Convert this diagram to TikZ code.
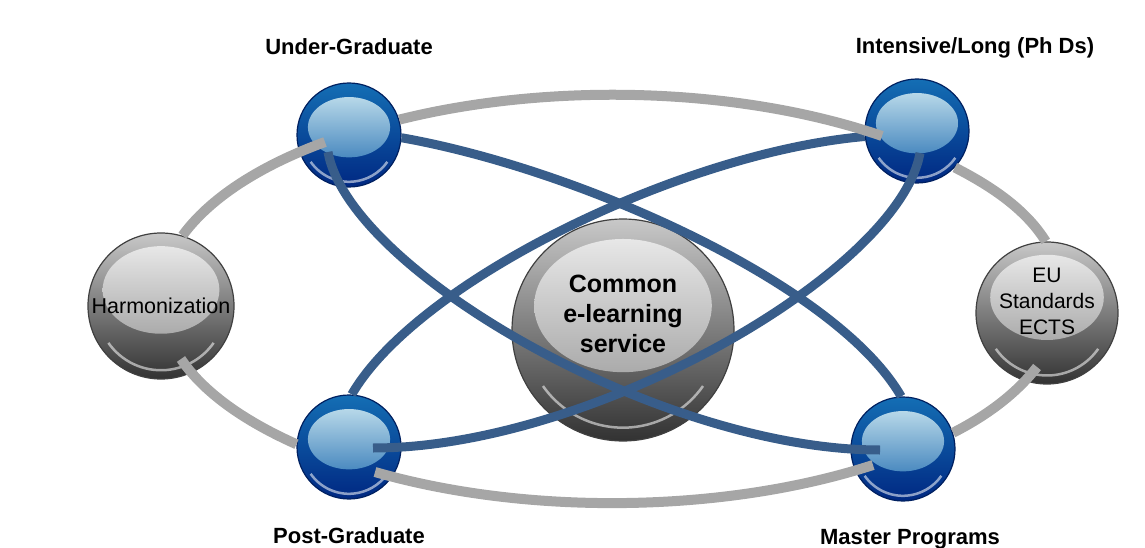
\documentclass[tikz,border=0pt]{standalone}
\usepackage{fontspec}
\setmainfont{Liberation Sans}

\definecolor{ringgray}{RGB}{166,166,166}
\definecolor{linkblue}{RGB}{56,93,138}
\definecolor{ballnavy}{RGB}{0,32,96}
\definecolor{balltop}{RGB}{20,110,180}
\definecolor{ballbot}{RGB}{0,40,130}
\definecolor{blueshine}{RGB}{208,234,242}
\definecolor{bluemid}{RGB}{115,182,214}
\definecolor{bluelow}{RGB}{22,100,172}
\definecolor{greyedge}{RGB}{64,64,64}
\definecolor{greytop}{RGB}{200,200,200}
\definecolor{greybot}{RGB}{50,50,50}
\definecolor{greyshine}{RGB}{240,240,240}
\definecolor{greymid}{RGB}{212,212,212}
\definecolor{greylow}{RGB}{140,140,140}

\begin{document}
\begin{tikzpicture}[x=1pt,y=1pt,thick,
    blue ball/.style={circle,inner sep=0pt,minimum size=2*#1pt,draw=ballnavy,line width=1.2pt,
      top color=balltop,bottom color=ballbot,
      path picture={
        \shade[top color=blueshine,middle color=bluemid,bottom color=bluelow]
          ([yshift=0.15*#1pt]path picture bounding box.center) ellipse [x radius=0.79*#1pt,y radius=0.58*#1pt];
        \draw[white,opacity=.55,line width=2.5pt]
          (path picture bounding box.center) ++(215:0.9*#1pt) arc [start angle=215,end angle=325,radius=0.9*#1pt];
      }},
    gray ball/.style={circle,inner sep=0pt,minimum size=2*#1pt,draw=greyedge,line width=1.2pt,
      top color=greytop,bottom color=greybot,
      path picture={
        \shade[top color=greyshine,middle color=greymid,bottom color=greylow]
          ([yshift=0.22*#1pt]path picture bounding box.center) ellipse [x radius=0.8*#1pt,y radius=0.6*#1pt];
        \draw[white,opacity=.55,line width=2.5pt]
          (path picture bounding box.center) ++(215:0.88*#1pt) arc [start angle=215,end angle=325,radius=0.88*#1pt];
      }},
    ring/.style={draw=ringgray,line width=10pt},
    link/.style={draw=linkblue,line width=9pt},
    lbl/.style={anchor=base,inner sep=0pt,font=\fontsize{22}{26}\selectfont\bfseries},
    balltext/.style={align=center,inner sep=0pt}]

  \useasboundingbox (0,0) rectangle (1145,547);

  \node[gray ball=73] (harm) at (161,241) {};
  \node[gray ball=71] (eu) at (1047,234) {};
  \node[gray ball=111] (common) at (623,217) {};
  \node[blue ball=52] (ug) at (349,412) {};
  \node[blue ball=52] (phd) at (917,416) {};
  \node[blue ball=52] (pg) at (349,100) {};
  \node[blue ball=52] (msc) at (903,98) {};

  \node[balltext,font=\fontsize{21.5}{26}\selectfont] (harmtext) at (harm) {Harmonization};
  \node[balltext,font=\fontsize{21}{26}\selectfont] (eutext) at ([yshift=12pt]eu.center) {EU\\Standards\\ECTS};
  \node[balltext,font=\fontsize{25}{30}\selectfont\bfseries] (commontext) at ([yshift=16pt]common.center)
    {Common\\e-learning\\service};

  \node[lbl] (uglabel) at ([yshift=80pt]ug.center) {Under-Graduate};
  \node[lbl] (phdlabel) at ([xshift=58pt,yshift=77pt]phd.center) {Intensive/Long (Ph Ds)};
  \node[lbl] (pglabel) at ([yshift=-96pt]pg.center) {Post-Graduate};
  \node[lbl] (msclabel) at ([xshift=7pt,yshift=-95pt]msc.center) {Master Programs};

  % blue links
  \path
    ([shift={(-21,-17)}]ug.center) edge[link,out=-80,in=180,out distance=120pt,in distance=220pt] ([shift={(-23,-1)}]msc.center)
    (ug.-3) edge[link,out=-10,in=120,out distance=180pt,in distance=130pt] (msc.92)
    (phd.186) edge[link,out=185,in=60,out distance=185pt,in distance=130pt] (pg.87)
    ([shift={(3,-22)}]phd.center) edge[link,out=-100,in=0,out distance=120pt,in distance=220pt] ([shift={(24,-1)}]pg.center);

  % gray ring
  \path
    (harm.73) edge[ring,out=54,in=200,out distance=45pt,in distance=71pt] ([shift={(-24,-7)}]ug.center)
    (ug.17) edge[ring,out=14,in=161,out distance=159pt,in distance=148pt] ([shift={(-35,-5)}]phd.center)
    (phd.-44) edge[ring,out=-27,in=122,out distance=48pt,in distance=34pt] (eu.91)
    ([shift={(-10,-54)}]eu.center) edge[ring,out=232,in=27,out distance=31pt,in distance=42pt] (msc.18)
    ([shift={(-30,-16)}]msc.center) edge[ring,out=198,in=-16,out distance=155pt,in distance=160pt] ([shift={(26,-25)}]pg.center)
    (pg.177) edge[ring,out=156,in=-56,out distance=59pt,in distance=39pt] ([shift={(20,-53)}]harm.center);
\end{tikzpicture}
\end{document}
